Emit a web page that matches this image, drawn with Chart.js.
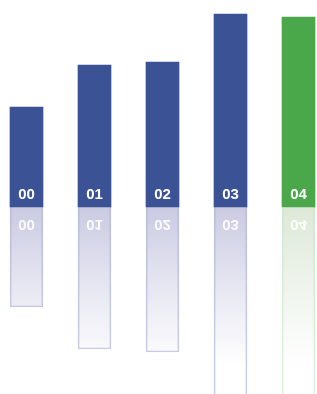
<!DOCTYPE html>
<html>
<head>
<meta charset="utf-8">
<script src="https://cdn.jsdelivr.net/npm/chart.js@4/dist/chart.umd.min.js"></script>
<style>
html,body{margin:0;padding:0;background:#fff;}
canvas{display:block;}
</style>
</head>
<body>
<canvas id="c" width="317" height="394"></canvas>
<script>
const categories = ["00", "01", "02", "03", "04"];
const values = [100, 142, 145, 193, 190];
const barColors = ["#3b5294", "#3b5294", "#3b5294", "#3b5294", "#4aa74a"];
const reflectBase = ["90,92,165", "90,92,165", "90,92,165", "90,92,165", "110,160,90"];
const reflectBorder = ["#c9cce4", "#c9cce4", "#c9cce4", "#c9cce4", "#dcefdc"];

function reflGradient(ctx) {
  const chart = ctx.chart;
  const b = reflectBase[ctx.dataIndex];
  if (!chart.chartArea) return "rgba(" + b + ",0.3)";
  const y0 = chart.scales.y.getPixelForValue(0);
  const g = chart.ctx.createLinearGradient(0, y0, 0, y0 + 160);
  const a0 = ctx.dataIndex === 4 ? 0.24 : 0.32;
  g.addColorStop(0, "rgba(" + b + "," + a0 + ")");
  g.addColorStop(0.47, "rgba(" + b + "," + (a0 * 0.5) + ")");
  g.addColorStop(0.87, "rgba(" + b + "," + (a0 * 0.12) + ")");
  g.addColorStop(1, "rgba(" + b + ",0)");
  return g;
}

const labelPlugin = {
  id: "labels",
  afterDatasetsDraw(chart) {
    const c = chart.ctx;
    const xs = chart.scales.x, ys = chart.scales.y;
    const y0 = ys.getPixelForValue(0);
    c.save();
    c.font = "bold 15px 'Liberation Sans', Arial, sans-serif";
    c.textAlign = "center";
    c.textBaseline = "alphabetic";
    categories.forEach((lab, i) => {
      const x = xs.getPixelForValue(i);
      c.fillStyle = "#ffffff";
      c.fillText(lab, x, y0 - 8);
      c.save();
      c.translate(x, y0);
      c.scale(1, -1);
      c.fillStyle = "rgba(255,255,255,0.9)";
      c.fillText(lab, 0, -13);
      c.restore();
    });
    c.restore();
  }
};

new Chart(document.getElementById("c"), {
  type: "bar",
  data: {
    datasets: [
      {
        data: values.map((v, i) => ({ x: i, y: v })),
        backgroundColor: barColors,
        borderWidth: 0,
        barThickness: 33,
        grouped: false
      },
      {
        data: values.map((v, i) => ({ x: i, y: -v })),
        backgroundColor: reflGradient,
        borderColor: reflectBorder,
        borderWidth: 1,
        borderSkipped: "start",
        barThickness: 33,
        grouped: false
      }
    ]
  },
  options: {
    responsive: false,
    animation: false,
    layout: { padding: 0 },
    plugins: { legend: { display: false }, tooltip: { enabled: false } },
    scales: {
      x: { type: "linear", display: false, offset: false, min: -0.3897, max: 4.272 },
      y: { display: false, min: -187, max: 207 }
    }
  },
  plugins: [labelPlugin]
});
</script>
</body>
</html>
